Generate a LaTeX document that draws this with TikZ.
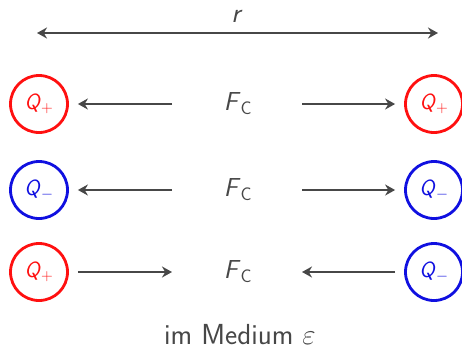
\RequirePackage{fix-cm}
\documentclass[tikz,border=0pt]{standalone}
\usepackage{fontspec}
\usetikzlibrary{arrows.meta}
\definecolor{txt}{HTML}{474747}
\definecolor{cred}{HTML}{FF1010}
\definecolor{cblue}{HTML}{1010E0}
\newcommand{\qplus}{\textit{Q}\textsubscript{+}}
\newcommand{\qminus}{\textit{Q}\textsubscript{$-$}}
\tikzset{
  charge/.style={circle, draw=#1, line width=2.8pt, minimum size=57pt, inner sep=0pt, text=#1, font=\sffamily\fontsize{22}{26}\selectfont},
  force/.style={text=txt, font=\sffamily\fontsize{26}{30}\selectfont},
  arr/.style={draw=txt, line width=2.6pt, -{Stealth[length=10pt,width=11pt]}},
  darr/.style={draw=txt, line width=2.6pt, {Stealth[length=10pt,width=11pt]}-{Stealth[length=10pt,width=11pt]}}
}
\begin{document}
\begin{tikzpicture}[x=1pt,y=-1pt]
\useasboundingbox (0,0) rectangle (462,351);
% top distance
\coordinate (rl) at (37,33);
\coordinate (rr) at (438,33);
\draw[darr] (rl) -- (rr);
\node[text=txt, font=\sffamily\fontsize{28}{32}\selectfont, anchor=base, inner sep=0pt] (rlab) at (237,22) {\textit{r}};
% row 1
\node[charge=cred] (q1l) at (39,104) {\qplus};
\node[charge=cred] (q1r) at (434,104) {\qplus};
\node[force] (f1) at (238,104) {\textit{F}\textsubscript{C}};
\coordinate (a1s) at (172,104);
\coordinate (a1e) at (302,104);
\draw[arr] (a1s) -- ([xshift=9pt]q1l.east);
\draw[arr] (a1e) -- ([xshift=-9pt]q1r.west);
% row 2
\node[charge=cblue] (q2l) at (39,190) {\qminus};
\node[charge=cblue] (q2r) at (434,190) {\qminus};
\node[force] (f2) at (238,190) {\textit{F}\textsubscript{C}};
\coordinate (a2s) at (172,190);
\coordinate (a2e) at (302,190);
\draw[arr] (a2s) -- ([xshift=9pt]q2l.east);
\draw[arr] (a2e) -- ([xshift=-9pt]q2r.west);
% row 3
\node[charge=cred] (q3l) at (39,272) {\qplus};
\node[charge=cblue] (q3r) at (434,272) {\qminus};
\node[force] (f3) at (238,272) {\textit{F}\textsubscript{C}};
\coordinate (a3s) at ([xshift=9pt]q3l.east);
\coordinate (a3e) at ([xshift=-9pt]q3r.west);
\coordinate (a3t) at (172,272);
\coordinate (a3u) at (302,272);
\draw[arr] (a3s) -- (a3t);
\draw[arr] (a3e) -- (a3u);
% medium
\node[text=txt, font=\sffamily\fontsize{29}{33}\selectfont] (med) at (240,335) {im Medium $\varepsilon$};
\end{tikzpicture}
\end{document}
